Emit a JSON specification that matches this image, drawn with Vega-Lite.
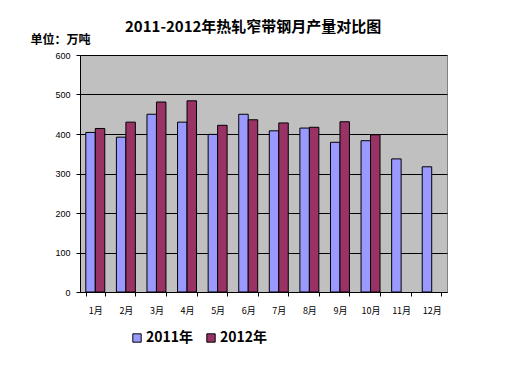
{
  "$schema": "https://vega.github.io/schema/vega-lite/v6.json",
  "width": 367,
  "height": 237,
  "autosize": {"type": "none"},
  "padding": {"left": 80, "top": 55, "right": 65, "bottom": 92},
  "background": "white",
  "title": {
    "text": "2011-2012年热轧窄带钢月产量对比图",
    "anchor": "start",
    "frame": "group",
    "dx": 45,
    "offset": -2,
    "font": "Noto Sans CJK SC",
    "fontSize": 15,
    "fontWeight": "bold",
    "color": "black"
  },
  "data": {
    "values": [
      {"month": "1月", "year": "2011年", "value": 404},
      {"month": "1月", "year": "2012年", "value": 414},
      {"month": "2月", "year": "2011年", "value": 392},
      {"month": "2月", "year": "2012年", "value": 430},
      {"month": "3月", "year": "2011年", "value": 450},
      {"month": "3月", "year": "2012年", "value": 481},
      {"month": "4月", "year": "2011年", "value": 430},
      {"month": "4月", "year": "2012年", "value": 484},
      {"month": "5月", "year": "2011年", "value": 399},
      {"month": "5月", "year": "2012年", "value": 422},
      {"month": "6月", "year": "2011年", "value": 450},
      {"month": "6月", "year": "2012年", "value": 436},
      {"month": "7月", "year": "2011年", "value": 408},
      {"month": "7月", "year": "2012年", "value": 428},
      {"month": "8月", "year": "2011年", "value": 415},
      {"month": "8月", "year": "2012年", "value": 417},
      {"month": "9月", "year": "2011年", "value": 379},
      {"month": "9月", "year": "2012年", "value": 431},
      {"month": "10月", "year": "2011年", "value": 383},
      {"month": "10月", "year": "2012年", "value": 398},
      {"month": "11月", "year": "2011年", "value": 337},
      {"month": "12月", "year": "2011年", "value": 317}
    ]
  },
  "mark": {"type": "bar", "stroke": "black", "strokeWidth": 1},
  "encoding": {
    "x": {
      "field": "month",
      "type": "nominal",
      "sort": null,
      "scale": {"paddingInner": 0.38, "paddingOuter": 0.19},
      "axis": {
        "title": null,
        "labelAngle": 0,
        "labelFont": "Noto Sans CJK SC",
        "labelFontSize": 9,
        "labelColor": "black",
        "labelPadding": 10,
        "tickBand": "extent",
        "tickColor": "black",
        "tickSize": 4,
        "domainColor": "black",
        "grid": false
      }
    },
    "xOffset": {"field": "year", "type": "nominal"},
    "y": {
      "field": "value",
      "type": "quantitative",
      "scale": {"domain": [0, 600]},
      "axis": {
        "values": [0, 100, 200, 300, 400, 500, 600],
        "title": "单位：万吨",
        "titleAngle": 0,
        "titleX": -50,
        "titleY": -12,
        "titleAlign": "left",
        "titleBaseline": "alphabetic",
        "titleFont": "Noto Sans CJK SC",
        "titleFontSize": 12,
        "titleFontWeight": "bold",
        "titleColor": "black",
        "labelFont": "Liberation Sans",
        "labelFontSize": 9,
        "labelColor": "black",
        "labelPadding": 6,
        "tickColor": "black",
        "tickSize": 4,
        "domainColor": "black",
        "gridColor": "black",
        "gridWidth": 1,
        "gridOpacity": 1
      }
    },
    "color": {
      "field": "year",
      "type": "nominal",
      "scale": {"domain": ["2011年", "2012年"], "range": ["#9999FF", "#993366"]},
      "legend": {
        "title": null,
        "orient": "none",
        "direction": "horizontal",
        "legendX": 50,
        "legendY": 276,
        "symbolType": "square",
        "symbolSize": 70,
        "symbolStrokeColor": "black",
        "symbolStrokeWidth": 1,
        "labelFont": "Noto Sans CJK SC",
        "labelFontSize": 14,
        "labelFontWeight": "bold",
        "labelColor": "black",
        "columnPadding": 10,
        "labelOffset": 2
      }
    }
  },
  "config": {
    "view": {"fill": "#C0C0C0", "stroke": "#808080", "strokeWidth": 1}
  }
}
